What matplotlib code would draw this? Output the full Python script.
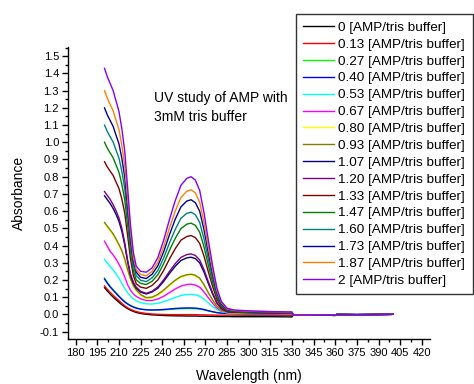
import numpy as np
import matplotlib
matplotlib.use('Agg')
import matplotlib.pyplot as plt
from matplotlib.ticker import MultipleLocator

plt.rcParams['font.family'] = ['Liberation Sans', 'DejaVu Sans']

# wavelength grid (nm) for the 200-330 nm section
wl_main = [200, 202, 204, 206, 208, 210, 212, 214, 216, 218, 220, 222, 225, 229,
           233, 237, 241, 245, 249, 253, 257, 260, 263, 266, 269, 272, 275, 278,
           281, 285, 290, 300, 315, 330]
# 331-400 nm section after the lamp change, all runs sit near zero
wl_tail = [331, 345, 360, 361, 375, 390, 400]
abs_tail = [-0.004, -0.005, -0.006, -0.001, -0.002, -0.001, 0.0]

labels = ['0', '0.13', '0.27', '0.40', '0.53', '0.67', '0.80', '0.93',
          '1.07', '1.20', '1.33', '1.47', '1.60', '1.73', '1.87', '2']

abs_0 = [0.155, 0.135, 0.117, 0.100, 0.085, 0.070, 0.056, 0.044, 0.033, 0.024, 0.017, 0.011, 0.005, 0.000,
         -0.003, -0.005, -0.007, -0.008, -0.009, -0.009, -0.010, -0.010, -0.010, -0.011, -0.011, -0.012,
         -0.012, -0.013, -0.013, -0.013, -0.014, -0.014, -0.014, -0.015]
abs_013 = [0.165, 0.145, 0.127, 0.110, 0.095, 0.080, 0.064, 0.050, 0.038, 0.029, 0.022, 0.016, 0.010, 0.005,
           0.002, 0.000, -0.001, -0.002, -0.002, -0.002, -0.002, -0.002, -0.002, -0.003, -0.003, -0.004,
           -0.004, -0.005, -0.005, -0.005, -0.005, -0.006, -0.006, -0.006]
abs_027 = [0.210, 0.185, 0.163, 0.143, 0.125, 0.107, 0.090, 0.075, 0.062, 0.052, 0.044, 0.037, 0.031, 0.027,
           0.025, 0.025, 0.026, 0.028, 0.030, 0.032, 0.033, 0.033, 0.032, 0.030, 0.026, 0.020,
           0.014, 0.009, 0.006, 0.004, 0.003, 0.002, 0.002, 0.001]
abs_040 = [0.205, 0.180, 0.158, 0.140, 0.122, 0.104, 0.087, 0.072, 0.060, 0.050, 0.042, 0.036, 0.030, 0.026,
           0.025, 0.026, 0.028, 0.031, 0.034, 0.036, 0.037, 0.037, 0.036, 0.033, 0.028, 0.021,
           0.015, 0.010, 0.007, 0.005, 0.004, 0.003, 0.002, 0.002]
abs_053 = [0.320, 0.298, 0.278, 0.258, 0.236, 0.210, 0.180, 0.150, 0.126, 0.106, 0.090, 0.079, 0.068, 0.061,
           0.060, 0.064, 0.073, 0.085, 0.098, 0.109, 0.115, 0.116, 0.113, 0.105, 0.088, 0.066,
           0.045, 0.027, 0.016, 0.008, 0.006, 0.005, 0.004, 0.003]
abs_067 = [0.425, 0.395, 0.365, 0.345, 0.320, 0.292, 0.258, 0.218, 0.172, 0.140, 0.118, 0.104, 0.090, 0.080,
           0.080, 0.089, 0.105, 0.126, 0.147, 0.164, 0.173, 0.175, 0.170, 0.158, 0.130, 0.096,
           0.064, 0.036, 0.019, 0.010, 0.007, 0.006, 0.005, 0.004]
abs_080 = [0.530, 0.508, 0.486, 0.463, 0.432, 0.401, 0.366, 0.317, 0.255, 0.202, 0.162, 0.136, 0.109, 0.091,
           0.094, 0.110, 0.135, 0.166, 0.194, 0.216, 0.226, 0.229, 0.223, 0.206, 0.169, 0.124,
           0.082, 0.045, 0.023, 0.011, 0.008, 0.007, 0.006, 0.005]
abs_093 = [0.534, 0.512, 0.490, 0.468, 0.437, 0.406, 0.371, 0.322, 0.261, 0.208, 0.168, 0.142, 0.115, 0.097,
           0.100, 0.116, 0.141, 0.171, 0.198, 0.220, 0.230, 0.233, 0.227, 0.210, 0.172, 0.126,
           0.083, 0.046, 0.024, 0.012, 0.009, 0.008, 0.007, 0.005]
abs_107 = [0.689, 0.666, 0.643, 0.615, 0.581, 0.541, 0.483, 0.404, 0.306, 0.226, 0.181, 0.152, 0.129, 0.118,
           0.130, 0.152, 0.191, 0.237, 0.279, 0.313, 0.328, 0.332, 0.324, 0.299, 0.245, 0.179,
           0.117, 0.064, 0.033, 0.016, 0.012, 0.010, 0.008, 0.006]
abs_120 = [0.714, 0.690, 0.667, 0.637, 0.602, 0.560, 0.501, 0.418, 0.317, 0.234, 0.187, 0.158, 0.134, 0.122,
           0.134, 0.159, 0.200, 0.249, 0.294, 0.331, 0.347, 0.351, 0.342, 0.316, 0.259, 0.189,
           0.124, 0.067, 0.034, 0.016, 0.012, 0.010, 0.008, 0.006]
abs_133 = [0.887, 0.856, 0.831, 0.807, 0.769, 0.732, 0.671, 0.590, 0.460, 0.324, 0.225, 0.178, 0.158, 0.151,
           0.168, 0.200, 0.255, 0.321, 0.381, 0.431, 0.452, 0.458, 0.446, 0.412, 0.338, 0.247,
           0.161, 0.086, 0.044, 0.020, 0.015, 0.012, 0.010, 0.008]
abs_147 = [1.000, 0.965, 0.937, 0.910, 0.868, 0.826, 0.757, 0.667, 0.520, 0.367, 0.255, 0.200, 0.180, 0.173,
           0.192, 0.230, 0.294, 0.371, 0.441, 0.498, 0.524, 0.530, 0.517, 0.477, 0.391, 0.285,
           0.185, 0.099, 0.050, 0.023, 0.016, 0.013, 0.011, 0.009]
abs_160 = [1.100, 1.062, 1.031, 1.001, 0.954, 0.909, 0.832, 0.733, 0.572, 0.404, 0.280, 0.225, 0.198, 0.190,
           0.212, 0.255, 0.327, 0.414, 0.493, 0.558, 0.587, 0.594, 0.579, 0.534, 0.438, 0.320,
           0.208, 0.112, 0.056, 0.026, 0.018, 0.015, 0.013, 0.010]
abs_173 = [1.200, 1.158, 1.125, 1.092, 1.041, 0.992, 0.908, 0.800, 0.625, 0.441, 0.310, 0.245, 0.215, 0.208,
           0.233, 0.282, 0.363, 0.462, 0.552, 0.625, 0.658, 0.666, 0.649, 0.599, 0.491, 0.358,
           0.232, 0.125, 0.062, 0.028, 0.020, 0.016, 0.014, 0.011]
abs_187 = [1.300, 1.255, 1.218, 1.183, 1.128, 1.074, 0.983, 0.866, 0.675, 0.476, 0.330, 0.260, 0.232, 0.223,
           0.250, 0.304, 0.393, 0.501, 0.599, 0.679, 0.715, 0.724, 0.706, 0.651, 0.534, 0.389,
           0.253, 0.136, 0.068, 0.031, 0.022, 0.018, 0.015, 0.012]
abs_200 = [1.430, 1.380, 1.340, 1.300, 1.240, 1.180, 1.080, 0.950, 0.740, 0.520, 0.360, 0.280, 0.250, 0.245,
           0.270, 0.330, 0.430, 0.550, 0.660, 0.750, 0.790, 0.800, 0.780, 0.720, 0.590, 0.430,
           0.280, 0.150, 0.075, 0.035, 0.025, 0.020, 0.016, 0.013]

series = [abs_0, abs_013, abs_027, abs_040, abs_053, abs_067, abs_080, abs_093,
          abs_107, abs_120, abs_133, abs_147, abs_160, abs_173, abs_187, abs_200]

# Origin default colour sequence
colors = ['#000000', '#ff0000', '#00ff00', '#0000ff', '#00ffff', '#ff00ff', '#ffff00', '#808000',
          '#000080', '#800080', '#800000', '#008000', '#008080', '#0000a0', '#ff8000', '#8000ff']

fig = plt.figure(figsize=(4.74, 3.84), dpi=100)
ax = fig.add_axes([0.1435, 0.1164, 0.7637, 0.7612])

wl = np.array(wl_main + wl_tail)
for lab, vals, col in zip(labels, series, colors):
    ax.plot(wl, np.array(vals + abs_tail), color=col, lw=1.0,
            label=lab + ' [AMP/tris buffer]')

ax.set_xlim(174.7, 425.7)
ax.set_ylim(-0.1453, 1.554)
ax.xaxis.set_major_locator(MultipleLocator(15))
ax.xaxis.set_minor_locator(MultipleLocator(7.5))
ax.yaxis.set_major_locator(MultipleLocator(0.1))
ax.yaxis.set_minor_locator(MultipleLocator(0.05))
ax.yaxis.set_major_formatter(matplotlib.ticker.FormatStrFormatter('%.1f'))

for s in ['top', 'right']:
    ax.spines[s].set_visible(False)
for s in ['left', 'bottom']:
    ax.spines[s].set_linewidth(1.0)
ax.tick_params(which='major', direction='out', length=4.5, width=1.0, labelsize=8, pad=2)
ax.tick_params(which='minor', direction='out', length=2.5, width=1.0)

ax.set_xlabel('Wavelength (nm)', fontsize=10, labelpad=8)
ax.set_ylabel('Absorbance', fontsize=10, labelpad=10)

ax.text(234, 1.30, 'UV study of AMP with\n3mM tris buffer', fontsize=10,
        va='top', ha='left', linespacing=1.5)

leg = fig.legend(loc='upper left', bbox_to_anchor=(296 / 474, 1 - 14 / 384),
                 fontsize=9.7, labelspacing=0.33, handlelength=2.3, handletextpad=0.3,
                 borderpad=0.55, borderaxespad=0, frameon=True, fancybox=False)
leg.get_frame().set_edgecolor('black')
leg.get_frame().set_linewidth(1.0)

fig.savefig('out.png', dpi=100)
